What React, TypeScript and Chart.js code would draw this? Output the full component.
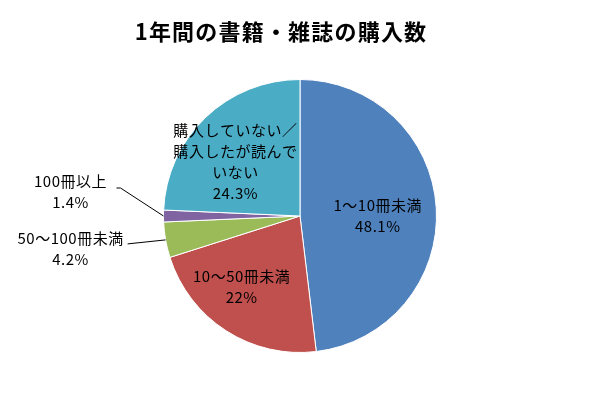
import React, { useEffect, useRef } from "react";
import { Chart, registerables } from "chart.js";

Chart.register(...registerables);

const TITLE = "1年間の書籍・雑誌の購入数";
const categories = ["1～10冊未満", "10～50冊未満", "50～100冊未満", "100冊以上", "購入していない／購入したが読んでいない"];
const values = [48.1, 22, 4.2, 1.4, 24.3];
const valueLabels = ["48.1%", "22%", "4.2%", "1.4%", "24.3%"];
const labelLines = [
  ["1～10冊未満"],
  ["10～50冊未満"],
  ["50～100冊未満"],
  ["100冊以上"],
  ["購入していない／", "購入したが読んで", "いない"],
];
const colors = ["#4F81BD", "#C0504D", "#9BBB59", "#8064A2", "#4BACC6"];

// label placement: inside labels (fraction of radius + nudge) or outside with leader line
const placement: any[] = [
  { inside: true, f: 0.6, dx: -4, dy: 5 },
  { inside: true, f: 0.6, dx: -14, dy: 2 },
  { inside: false, tx: -95, ty: 9, line: [[-38, 4]] },
  { inside: false, tx: -93, ty: -24, line: [[-43, -28], [-47, -28]] },
  { inside: true, f: 0.6, dx: -8, dy: 5 },
];

const FONT = '"Noto Sans CJK JP", "Noto Sans", sans-serif';

const labelPlugin = {
  id: "pieLabels",
  afterDraw(chart: any) {
    const ctx = chart.ctx;
    ctx.save();
    ctx.fillStyle = "#000";
    ctx.font = `bold 22px ${FONT}`;
    (ctx as any).letterSpacing = "1.2px";
    ctx.textAlign = "center";
    ctx.textBaseline = "middle";
    ctx.fillText(TITLE, 281, 32);

    const meta = chart.getDatasetMeta(0);
    meta.data.forEach((arc: any, i: number) => {
      const { x, y, startAngle, endAngle, outerRadius } = arc.getProps(
        ["x", "y", "startAngle", "endAngle", "outerRadius"],
        true
      );
      const mid = (startAngle + endAngle) / 2;
      const p = placement[i];
      const lines = [...labelLines[i], valueLabels[i]];
      const lh = 21;
      ctx.font = `15px ${FONT}`;
      (ctx as any).letterSpacing = "0.5px";
      ctx.fillStyle = "#000";
      let cx: number, cy: number;
      if (p.inside) {
        cx = x + Math.cos(mid) * outerRadius * p.f + p.dx;
        cy = y + Math.sin(mid) * outerRadius * p.f + p.dy;
      } else {
        const ex = x + Math.cos(mid) * outerRadius;
        const ey = y + Math.sin(mid) * outerRadius;
        ctx.strokeStyle = "#000";
        ctx.lineWidth = 1;
        ctx.beginPath();
        ctx.moveTo(ex, ey);
        p.line.forEach((pt: number[]) => ctx.lineTo(ex + pt[0], ey + pt[1]));
        ctx.stroke();
        cx = ex + p.tx;
        cy = ey + p.ty;
      }
      const top = cy - ((lines.length - 1) * lh) / 2;
      lines.forEach((t, k) => ctx.fillText(t, cx, top + k * lh));
    });
    ctx.restore();
  },
};

export default function App() {
  const ref = useRef<HTMLCanvasElement>(null);
  useEffect(() => {
    const chart = new Chart(ref.current!, {
      type: "pie",
      data: {
        labels: categories,
        datasets: [
          {
            data: values,
            backgroundColor: colors,
            borderColor: "#ffffff",
            borderWidth: 1,
          },
        ],
      },
      options: {
        responsive: false,
        animation: false,
        layout: { padding: { top: 79, bottom: 41, left: 1, right: 0 } },
        plugins: {
          legend: { display: false },
          tooltip: { enabled: false },
          title: { display: false },
        },
      },
      plugins: [labelPlugin],
    });
    return () => chart.destroy();
  }, []);
  return (
    <div style={{ position: "fixed", left: 0, top: 0, width: 599, height: 394, background: "#fff" }}>
      <canvas ref={ref} width={599} height={394} />
    </div>
  );
}
